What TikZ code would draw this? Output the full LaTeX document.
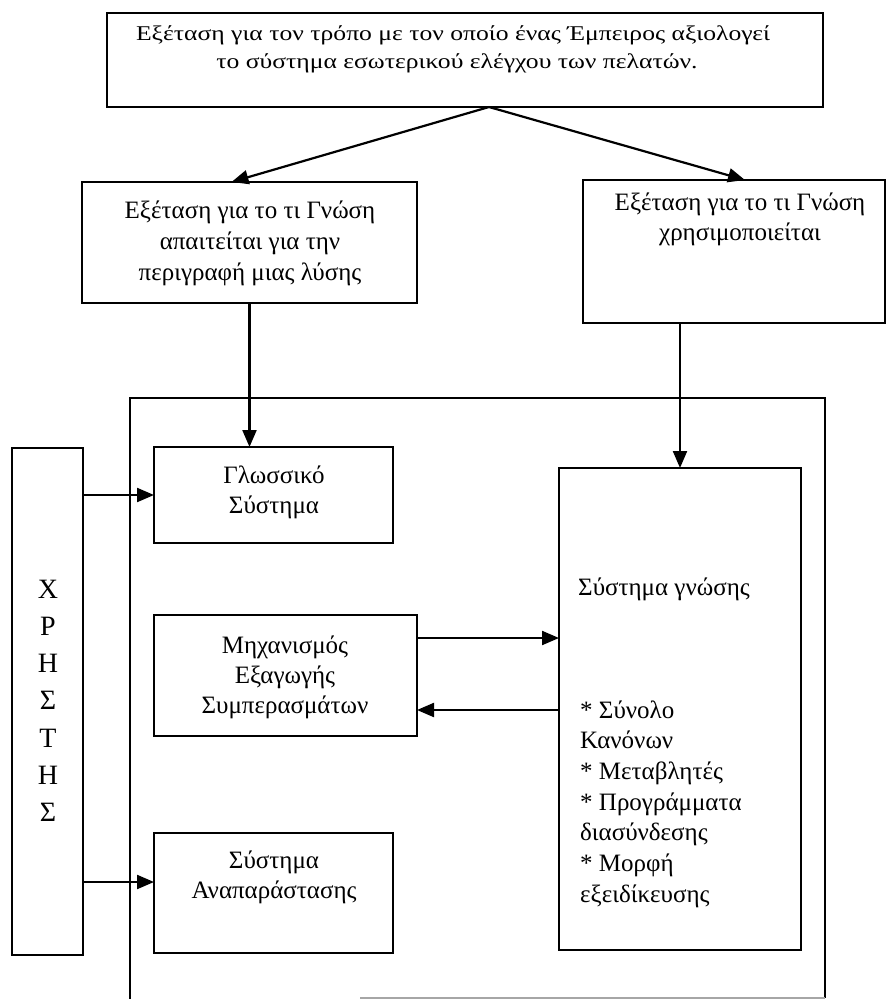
\documentclass[tikz,border=0pt]{standalone}
\usepackage{fontspec}
\setmainfont{Liberation Serif}
\newfontfamily\headfont[FakeStretch=1.22]{Liberation Serif}
\usetikzlibrary{arrows.meta}

\begin{document}
\begin{tikzpicture}[x=1pt,y=-1pt,
  box/.style={draw, line width=2.2pt, rectangle, inner sep=0pt, outer sep=0pt, anchor=north west},
  txt/.style={inner sep=0pt, anchor=base, font=\fontsize{25}{30}\selectfont},
  headtxt/.style={inner sep=0pt, anchor=base, font=\headfont\fontsize{21}{24}\selectfont},
  conn/.style={line width=2.2pt, -{Triangle[length=17pt,width=14pt]}},
]
\path[use as bounding box] (0,0) rectangle (887,999);

% boxes
\node[box, minimum width=716pt, minimum height=94pt] (top) at (107,13) {};
\node[box, minimum width=335pt, minimum height=121pt] (need) at (82,182) {};
\node[box, minimum width=302pt, minimum height=143pt] (used) at (583,180) {};
\node[box, minimum width=71pt, minimum height=507pt] (user) at (12,448) {};
\node[box, minimum width=239pt, minimum height=96pt] (lang) at (154,447) {};
\node[box, minimum width=263pt, minimum height=121pt] (infer) at (154,615) {};
\node[box, minimum width=239pt, minimum height=120pt] (repr) at (154,833) {};
\node[box, minimum width=242pt, minimum height=482pt] (kb) at (559,468) {};

% frame around the system parts
\draw[line width=2.2pt] (130,999) -- (130,398) -- (825,398) -- (825,998);
\draw[line width=2.2pt, black!35] (825,998) -- (360,998);

% texts
\node[headtxt] (top-1) at (453,40) {Εξέταση για τον τρόπο με τον οποίο ένας Έμπειρος αξιολογεί};
\node[headtxt] (top-2) at (457,68) {το σύστημα εσωτερικού ελέγχου των πελατών.};

\foreach \t [count=\i] in {Εξέταση για το τι Γνώση, απαιτείται για την, περιγραφή μιας λύσης}
  \node[txt] (need-\i) at (250,{218+31*(\i-1)}) {\t};
\foreach \t [count=\i] in {Εξέταση για το τι Γνώση, χρησιμοποιείται}
  \node[txt] (used-\i) at (740,{210+30*(\i-1)}) {\t};
\foreach \t [count=\i] in {Γλωσσικό, Σύστημα}
  \node[txt] (lang-\i) at (274,{483+30*(\i-1)}) {\t};
\foreach \t [count=\i] in {Μηχανισμός, Εξαγωγής, Συμπερασμάτων}
  \node[txt] (infer-\i) at (285,{653+30*(\i-1)}) {\t};
\foreach \t [count=\i] in {Σύστημα, Αναπαράστασης}
  \node[txt] (repr-\i) at (274,{868+30*(\i-1)}) {\t};
\foreach \t [count=\i] in {Χ, Ρ, Η, Σ, Τ, Η, Σ}
  \node[txt, font=\fontsize{28}{30}\selectfont] (user-\i) at (48,{598+37.3*(\i-1)}) {\t};
\node[txt, anchor=base west] (kb-0) at (578,595) {Σύστημα γνώσης};
\foreach \t [count=\i] in {* Σύνολο, Κανόνων, * Μεταβλητές, * Προγράμματα, διασύνδεσης, * Μορφή, εξειδίκευσης}
  \node[txt, anchor=base west] (kb-\i) at (580,{718+30.7*(\i-1)}) {\t};

% attachment points for the connectors
\coordinate (split) at ([xshift=24pt]top.south);
\coordinate (repr-in) at ([yshift=11pt]repr.west);
\coordinate (infer-out) at ([yshift=37.5pt]infer.east);
\coordinate (infer-in) at ([yshift=-34.5pt]infer.east);

% connectors
\draw[conn] (split) -- ([xshift=-18pt]need.north);
\draw[conn] (split) -- ([xshift=11pt]used.north);
\draw[conn] (need.south) -- (need.south |- lang.north);
\draw[conn] (kb.north |- used.south) -- (kb.north);
\draw[conn] (user.east |- lang.west) -- (lang.west);
\draw[conn] (user.east |- repr-in) -- (repr-in);
\draw[conn] (infer-out) -- (kb.west |- infer-out);
\draw[conn] (kb.west |- infer-in) -- (infer-in);
\end{tikzpicture}
\end{document}
